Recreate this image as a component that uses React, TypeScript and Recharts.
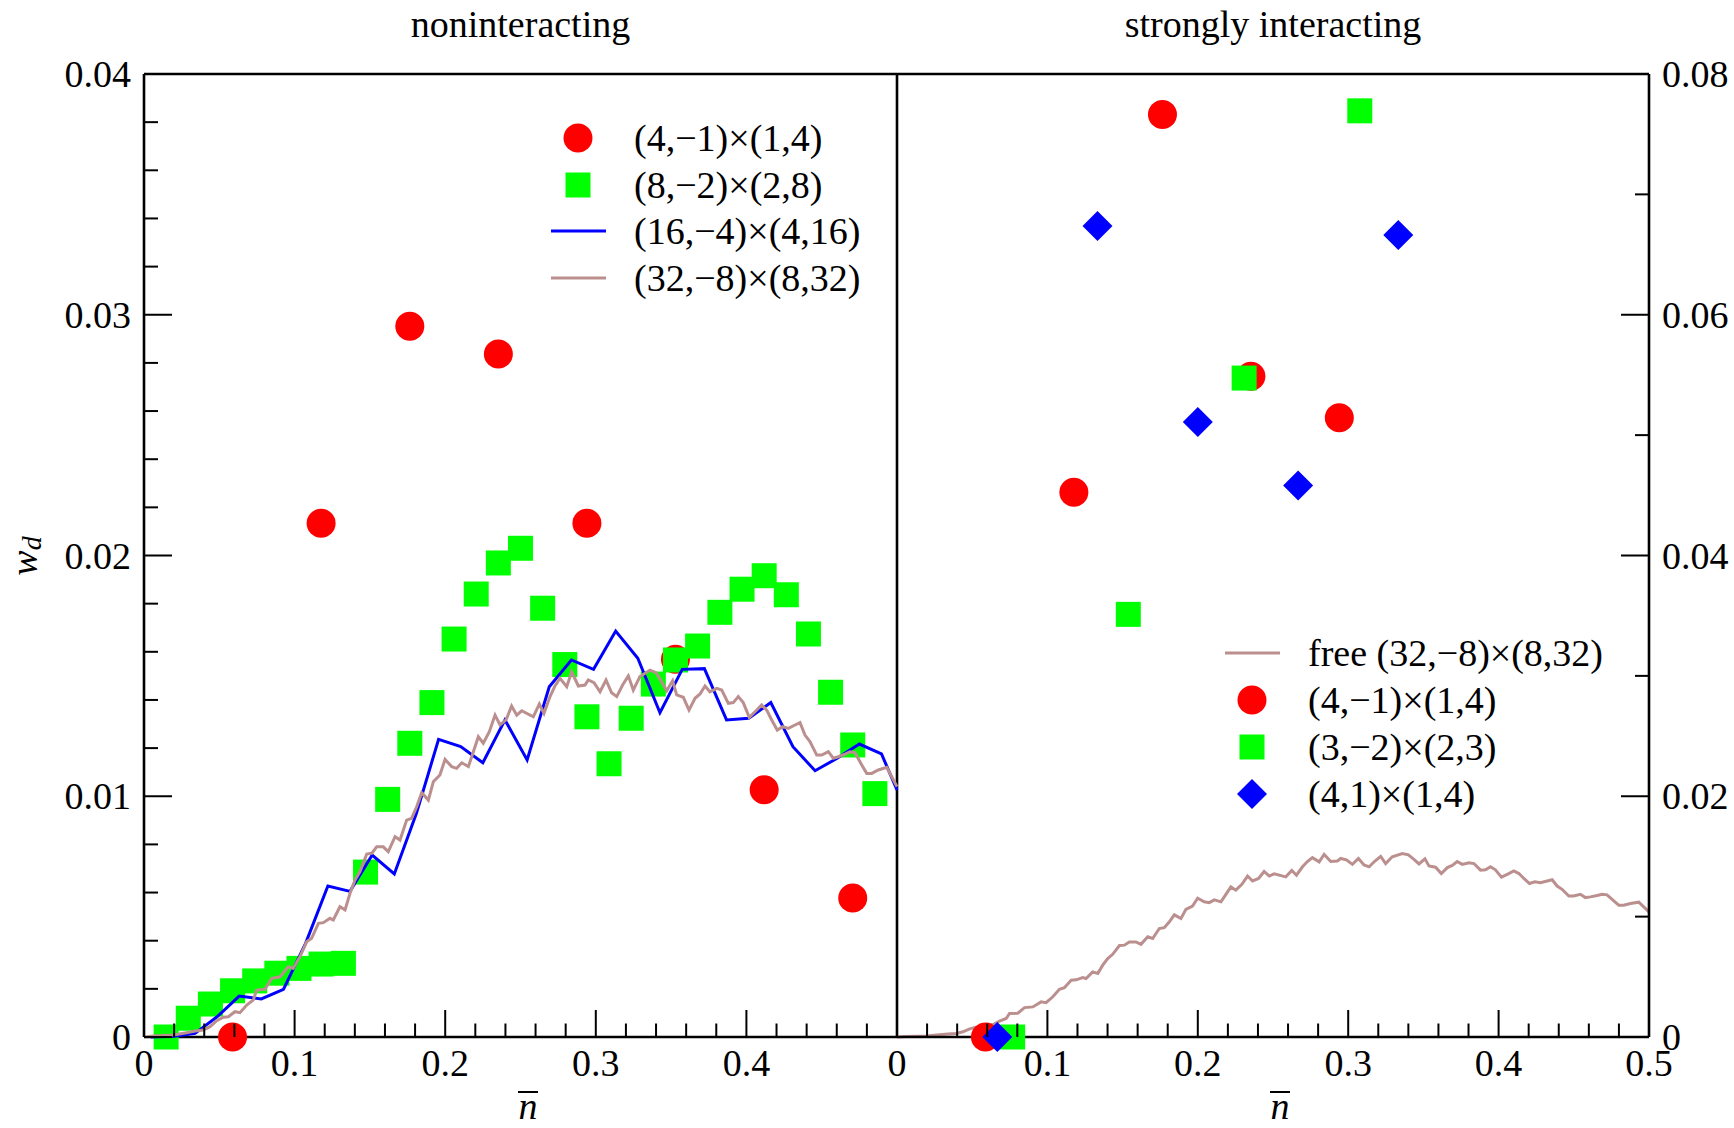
import React from 'react';
import { ComposedChart, Line, Scatter, XAxis, YAxis, ReferenceLine, Legend } from 'recharts';

const FONT = "'Liberation Serif', 'Times New Roman', serif";
const FS = 38;

type Pt = [number, number];

// left panel: noninteracting
const nonintRed: Pt[] = [
  [0.0588, 0], [0.1176, 0.02134], [0.1765, 0.02952], [0.2353, 0.02837],
  [0.2941, 0.02134], [0.3529, 0.01569], [0.4118, 0.01027], [0.4706, 0.00577],
];

const nonintGreen: Pt[] = [
  [0.0147, 0], [0.0294, 0.00078], [0.0441, 0.00137], [0.0588, 0.00192], [0.0735, 0.00233],
  [0.0882, 0.00265], [0.1029, 0.00285], [0.1176, 0.00303], [0.1324, 0.00306], [0.1471, 0.00685],
  [0.1618, 0.00987], [0.1765, 0.0122], [0.1912, 0.01389], [0.2059, 0.01653], [0.2206, 0.0184],
  [0.2353, 0.01969], [0.25, 0.0203], [0.2647, 0.01781], [0.2794, 0.01547], [0.2941, 0.0133],
  [0.3088, 0.01135], [0.3235, 0.01324], [0.3382, 0.01466], [0.3529, 0.01566], [0.3676, 0.01624],
  [0.3824, 0.01764], [0.3971, 0.0186], [0.4118, 0.01916], [0.4265, 0.01837], [0.4412, 0.01674],
  [0.4559, 0.01432], [0.4706, 0.01213], [0.4853, 0.01011],
];

const nonintBlue: Pt[] = [
  [0.0044, 0], [0.0191, 0.00002], [0.0339, 0.00015], [0.0485, 0.00084], [0.0632, 0.0017],
  [0.0779, 0.00158], [0.0926, 0.00198], [0.1073, 0.00389], [0.1221, 0.00627], [0.1368, 0.00605],
  [0.1515, 0.00756], [0.1662, 0.00677], [0.1809, 0.00929], [0.1956, 0.01236], [0.2103, 0.01206],
  [0.225, 0.01139], [0.2397, 0.01317], [0.2544, 0.01151], [0.2691, 0.01455], [0.2838, 0.01566],
  [0.2985, 0.01527], [0.3132, 0.01686], [0.3279, 0.01573], [0.3426, 0.01347], [0.3574, 0.01527],
  [0.3721, 0.0153], [0.3868, 0.01317], [0.4015, 0.01324], [0.4162, 0.01389], [0.4309, 0.01206],
  [0.4456, 0.01106], [0.4603, 0.01158], [0.475, 0.01217], [0.4897, 0.01176], [0.5, 0.01026],
];

// (32,-8)x(8,32), same free curve in both panels
const freeBrown: Pt[] = [
  [0, 0], [0.0062, 0.00004], [0.0195, 0.00008], [0.0283, 0.00018], [0.0339, 0.00025],
  [0.0394, 0.00029], [0.0438, 0.00043], [0.0483, 0.00068], [0.0527, 0.00082], [0.056, 0.00084],
  [0.0604, 0.00105], [0.0637, 0.00101], [0.0682, 0.00133], [0.0726, 0.00154], [0.0748, 0.00195],
  [0.0803, 0.00198], [0.0848, 0.00244], [0.0903, 0.0025], [0.0958, 0.00292], [0.0991, 0.00285],
  [0.1036, 0.00334], [0.108, 0.00396], [0.1113, 0.0041], [0.1158, 0.00472], [0.1191, 0.00475],
  [0.1235, 0.00493], [0.1257, 0.00486], [0.1301, 0.00541], [0.1335, 0.00528], [0.1368, 0.00597],
  [0.1401, 0.00652], [0.1434, 0.00687], [0.1479, 0.0076], [0.1512, 0.00763], [0.1545, 0.0079],
  [0.1589, 0.0079], [0.1622, 0.0077], [0.1667, 0.00832], [0.17, 0.00818], [0.1744, 0.00901],
  [0.1777, 0.00908], [0.1811, 0.00957], [0.1844, 0.01015], [0.1888, 0.00984], [0.1921, 0.0106],
  [0.1965, 0.01088], [0.1999, 0.01153], [0.2043, 0.01123], [0.2076, 0.01116], [0.211, 0.01139],
  [0.2154, 0.01123], [0.2187, 0.01185], [0.222, 0.01247], [0.2253, 0.0122], [0.2293, 0.01268],
  [0.2331, 0.01337], [0.2364, 0.01296], [0.2404, 0.01317], [0.2441, 0.01375], [0.2475, 0.01337],
  [0.2508, 0.01355], [0.2585, 0.0133], [0.2625, 0.01383], [0.2656, 0.01344], [0.2696, 0.01414],
  [0.2729, 0.01458], [0.2762, 0.0149], [0.2807, 0.01455], [0.284, 0.01517], [0.2884, 0.01458],
  [0.2928, 0.01462], [0.295, 0.01483], [0.2988, 0.01472], [0.3028, 0.01434], [0.3068, 0.01483],
  [0.3105, 0.0143], [0.3139, 0.01414], [0.3178, 0.01462], [0.3216, 0.015], [0.3249, 0.01441],
  [0.3293, 0.01497], [0.336, 0.01524], [0.34, 0.01513], [0.3437, 0.01476], [0.3471, 0.01438],
  [0.351, 0.0148], [0.3537, 0.01421], [0.3581, 0.01411], [0.3619, 0.01358], [0.3659, 0.01407],
  [0.3692, 0.01425], [0.3725, 0.01458], [0.3758, 0.01434], [0.3803, 0.01448], [0.3836, 0.01441],
  [0.388, 0.01386], [0.3913, 0.01389], [0.3946, 0.01414], [0.3979, 0.01389], [0.4019, 0.01328],
  [0.4064, 0.01355], [0.4101, 0.01379], [0.4135, 0.01358], [0.4168, 0.01317], [0.4205, 0.01275],
  [0.4241, 0.01289], [0.4278, 0.01282], [0.4323, 0.01296], [0.4356, 0.01306], [0.4389, 0.01254],
  [0.4422, 0.01227], [0.4467, 0.01171], [0.45, 0.01171], [0.4544, 0.01185], [0.4577, 0.01158],
  [0.461, 0.01164], [0.4655, 0.01175], [0.4688, 0.01185], [0.4721, 0.01181], [0.4766, 0.0113],
  [0.4799, 0.01095], [0.4832, 0.01095], [0.4876, 0.01109], [0.4932, 0.0112], [0.4965, 0.01081],
  [0.5, 0.0104],
];

// right panel: strongly interacting
const strongRed: Pt[] = [[0.0588, 0], [0.1176, 0.04526], [0.1765, 0.07664], [0.2353, 0.05489], [0.2941, 0.05144]];
const strongGreen: Pt[] = [[0.0769, 0], [0.1538, 0.03511], [0.2308, 0.05474], [0.3077, 0.07694]];
const strongBlue: Pt[] = [[0.0667, 0], [0.1333, 0.06737], [0.2, 0.05108], [0.2667, 0.04582], [0.3333, 0.06663]];

// ticks
const xMajor = [0, 0.1, 0.2, 0.3, 0.4, 0.5];
const xMinor = [0.02, 0.04, 0.06, 0.08, 0.12, 0.14, 0.16, 0.18, 0.22, 0.24, 0.26, 0.28, 0.32, 0.34, 0.36, 0.38, 0.42, 0.44, 0.46, 0.48];
const leftXLabels = ['0', '0.1', '0.2', '0.3', '0.4'];
const rightXLabels = ['0', '0.1', '0.2', '0.3', '0.4', '0.5'];

const leftYMajor = [0, 0.01, 0.02, 0.03, 0.04];
const leftYMinor = [0.002, 0.004, 0.006, 0.008, 0.012, 0.014, 0.016, 0.018, 0.022, 0.024, 0.026, 0.028, 0.032, 0.034, 0.036, 0.038];
const leftYLabels = ['0', '0.01', '0.02', '0.03', '0.04'];

const rightYMajor = [0, 0.02, 0.04, 0.06, 0.08];
const rightYMinor = [0.01, 0.03, 0.05, 0.07];
const rightYLabels = ['0', '0.02', '0.04', '0.06', '0.08'];

const leftNames = ['(4,\u22121)\u00d7(1,4)', '(8,\u22122)\u00d7(2,8)', '(16,\u22124)\u00d7(4,16)', '(32,\u22128)\u00d7(8,32)'];
const rightNames = ['free (32,\u22128)\u00d7(8,32)', '(4,\u22121)\u00d7(1,4)', '(3,\u22122)\u00d7(2,3)', '(4,1)\u00d7(1,4)'];

const toRows = (pts: Pt[]) => pts.map(([x, y]) => ({ x, y }));

const RED = '#ff0000';
const GREEN = '#00ff00';
const BLUE = '#0000ff';
const BROWN = '#bc8f8f';
const FRAME = 2.6;

const Circle = (p: any) => <circle cx={p.cx} cy={p.cy} r={14.5} fill={RED} />;
const Square = (p: any) => <rect x={p.cx - 12.5} y={p.cy - 12.5} width={25} height={25} fill={GREEN} />;
const Diamond = (p: any) => (
  <polygon
    points={`${p.cx},${p.cy - 15} ${p.cx + 15},${p.cy} ${p.cx},${p.cy + 15} ${p.cx - 15},${p.cy}`}
    fill={BLUE}
  />
);

const findIdx = (arr: number[], v: number) => arr.findIndex((a) => Math.abs(a - v) < 1e-9);

function XTick({ x, y, payload, labels }: any) {
  const i = findIdx(xMajor, payload.value);
  const len = i >= 0 ? 27 : 13.5;
  return (
    <g>
      <line x1={x} x2={x} y1={y} y2={y - len} stroke="#000" strokeWidth={2} />
      {i >= 0 && labels[i] != null && (
        <text x={x} y={y + 39} textAnchor="middle" fontFamily={FONT} fontSize={FS} fill="#000">
          {labels[i]}
        </text>
      )}
    </g>
  );
}

function YTick({ x, y, payload, side, major, labels }: any) {
  const i = findIdx(major, payload.value);
  const len = i >= 0 ? 28 : 14;
  const dir = side === 'left' ? 1 : -1;
  return (
    <g>
      <line x1={x} x2={x + dir * len} y1={y} y2={y} stroke="#000" strokeWidth={2} />
      {i >= 0 && (
        <text
          x={x - dir * 13}
          y={y + 13}
          textAnchor={side === 'left' ? 'end' : 'start'}
          fontFamily={FONT}
          fontSize={FS}
          fill="#000"
        >
          {labels[i]}
        </text>
      )}
    </g>
  );
}

function icon(type: string, color: string) {
  if (type === 'circle') return <circle cx={32} cy={20} r={14.5} fill={color} />;
  if (type === 'square') return <rect x={19.5} y={7.5} width={25} height={25} fill={color} />;
  if (type === 'diamond') return <polygon points="32,5 47,20 32,35 17,20" fill={color} />;
  return <line x1={5} x2={60} y1={20} y2={20} stroke={color} strokeWidth={3} />;
}

function legendContent(order: string[], rowH: number) {
  return (props: any) => {
    const items = [...(props.payload || [])].sort(
      (a: any, b: any) => order.indexOf(a.value) - order.indexOf(b.value),
    );
    return (
      <div style={{ fontFamily: FONT, fontSize: FS, color: '#000' }}>
        {items.map((it: any) => (
          <div key={it.value} style={{ display: 'flex', alignItems: 'center', height: rowH, whiteSpace: 'nowrap' }}>
            <svg width={64} height={40} style={{ display: 'block', flex: 'none' }}>
              {icon(it.type, it.color)}
            </svg>
            <span style={{ marginLeft: 24, lineHeight: 1 }}>{it.value}</span>
          </div>
        ))}
      </div>
    );
  };
}

function NBar({ cx }: { cx: number }) {
  return (
    <g>
      <line x1={cx - 10} x2={cx + 10} y1={1092} y2={1092} stroke="#000" strokeWidth={2} />
      <text x={cx} y={1119} textAnchor="middle" fontFamily={FONT} fontSize={FS} fontStyle="italic" fill="#000">
        n
      </text>
    </g>
  );
}

const axisLine = { stroke: '#000', strokeWidth: FRAME };
const xTicks = [...xMajor, ...xMinor].sort((a, b) => a - b);
const leftYTicks = [...leftYMajor, ...leftYMinor].sort((a, b) => a - b);
const rightYTicks = [...rightYMajor, ...rightYMinor].sort((a, b) => a - b);

export default function App() {
  return (
    <div
      style={{
        position: 'absolute',
        left: 0,
        top: 0,
        width: 1734,
        height: 1128,
        background: '#fff',
        fontFamily: FONT,
        overflow: 'hidden',
      }}
    >
      <div style={{ position: 'absolute', left: 0, top: 0 }}>
        <ComposedChart width={920} height={1128} margin={{ top: 74, right: 23, bottom: 0, left: 0 }}>
          <XAxis
            dataKey="x"
            type="number"
            domain={[0, 0.5]}
            ticks={xTicks}
            interval={0}
            tickSize={0}
            tickMargin={0}
            tickLine={false}
            height={91}
            axisLine={axisLine}
            tick={(p: any) => <XTick {...p} labels={leftXLabels} />}
          />
          <YAxis
            dataKey="y"
            type="number"
            domain={[0, 0.04]}
            ticks={leftYTicks}
            interval={0}
            tickSize={0}
            tickMargin={0}
            tickLine={false}
            width={144}
            axisLine={axisLine}
            tick={(p: any) => <YTick {...p} side="left" major={leftYMajor} labels={leftYLabels} />}
          />
          <ReferenceLine y={0.04} stroke="#000" strokeWidth={FRAME} />
          <ReferenceLine x={0.5} stroke="#000" strokeWidth={FRAME} />
          <Scatter name={leftNames[0]} data={toRows(nonintRed)} dataKey="y" fill={RED} shape={Circle} legendType="circle" isAnimationActive={false} />
          <Scatter name={leftNames[1]} data={toRows(nonintGreen)} dataKey="y" fill={GREEN} shape={Square} legendType="square" isAnimationActive={false} />
          <Line
            name={leftNames[2]}
            data={toRows(nonintBlue)}
            dataKey="y"
            type="linear"
            stroke={BLUE}
            strokeWidth={3}
            dot={false}
            activeDot={false}
            legendType="line"
            isAnimationActive={false}
            zIndex={700}
          />
          <Line
            name={leftNames[3]}
            data={toRows(freeBrown)}
            dataKey="y"
            type="linear"
            stroke={BROWN}
            strokeWidth={3}
            dot={false}
            activeDot={false}
            legendType="line"
            isAnimationActive={false}
            zIndex={700}
          />
          <Legend
            layout="vertical"
            align="center"
            verticalAlign="middle"
            wrapperStyle={{ left: 546, top: 114.6 }}
            content={legendContent(leftNames, 46.7)}
          />
          <text x={520.5} y={37} textAnchor="middle" fontFamily={FONT} fontSize={FS} fill="#000">
            noninteracting
          </text>
          <text
            x={37}
            y={556}
            transform="rotate(-90, 37, 556)"
            textAnchor="middle"
            fontFamily={FONT}
            fontSize={FS}
            fontStyle="italic"
            fill="#000"
          >
            w
            <tspan fontSize={28} dy={4}>
              d
            </tspan>
          </text>
          <NBar cx={528} />
        </ComposedChart>
      </div>

      <div style={{ position: 'absolute', left: 860, top: 0 }}>
        <ComposedChart width={874} height={1128} margin={{ top: 74, right: 0, bottom: 0, left: 37 }}>
          <XAxis
            dataKey="x"
            type="number"
            domain={[0, 0.5]}
            ticks={xTicks}
            interval={0}
            tickSize={0}
            tickMargin={0}
            tickLine={false}
            height={91}
            axisLine={axisLine}
            tick={(p: any) => <XTick {...p} labels={rightXLabels} />}
          />
          <YAxis
            dataKey="y"
            type="number"
            orientation="right"
            domain={[0, 0.08]}
            ticks={rightYTicks}
            interval={0}
            tickSize={0}
            tickMargin={0}
            tickLine={false}
            width={85}
            axisLine={axisLine}
            tick={(p: any) => <YTick {...p} side="right" major={rightYMajor} labels={rightYLabels} />}
          />
          <ReferenceLine y={0.08} stroke="#000" strokeWidth={FRAME} />
          <Line
            name={rightNames[0]}
            data={toRows(freeBrown)}
            dataKey="y"
            type="linear"
            stroke={BROWN}
            strokeWidth={3}
            dot={false}
            activeDot={false}
            legendType="line"
            isAnimationActive={false}
          />
          <Scatter name={rightNames[1]} data={toRows(strongRed)} dataKey="y" fill={RED} shape={Circle} legendType="circle" isAnimationActive={false} />
          <Scatter name={rightNames[2]} data={toRows(strongGreen)} dataKey="y" fill={GREEN} shape={Square} legendType="square" isAnimationActive={false} />
          <Scatter name={rightNames[3]} data={toRows(strongBlue)} dataKey="y" fill={BLUE} shape={Diamond} legendType="diamond" isAnimationActive={false} />
          <Legend
            layout="vertical"
            align="center"
            verticalAlign="middle"
            wrapperStyle={{ left: 360, top: 629 }}
            content={legendContent(rightNames, 47)}
          />
          <text x={413} y={37} textAnchor="middle" fontFamily={FONT} fontSize={FS} fill="#000">
            strongly interacting
          </text>
          <NBar cx={420} />
        </ComposedChart>
      </div>
    </div>
  );
}
